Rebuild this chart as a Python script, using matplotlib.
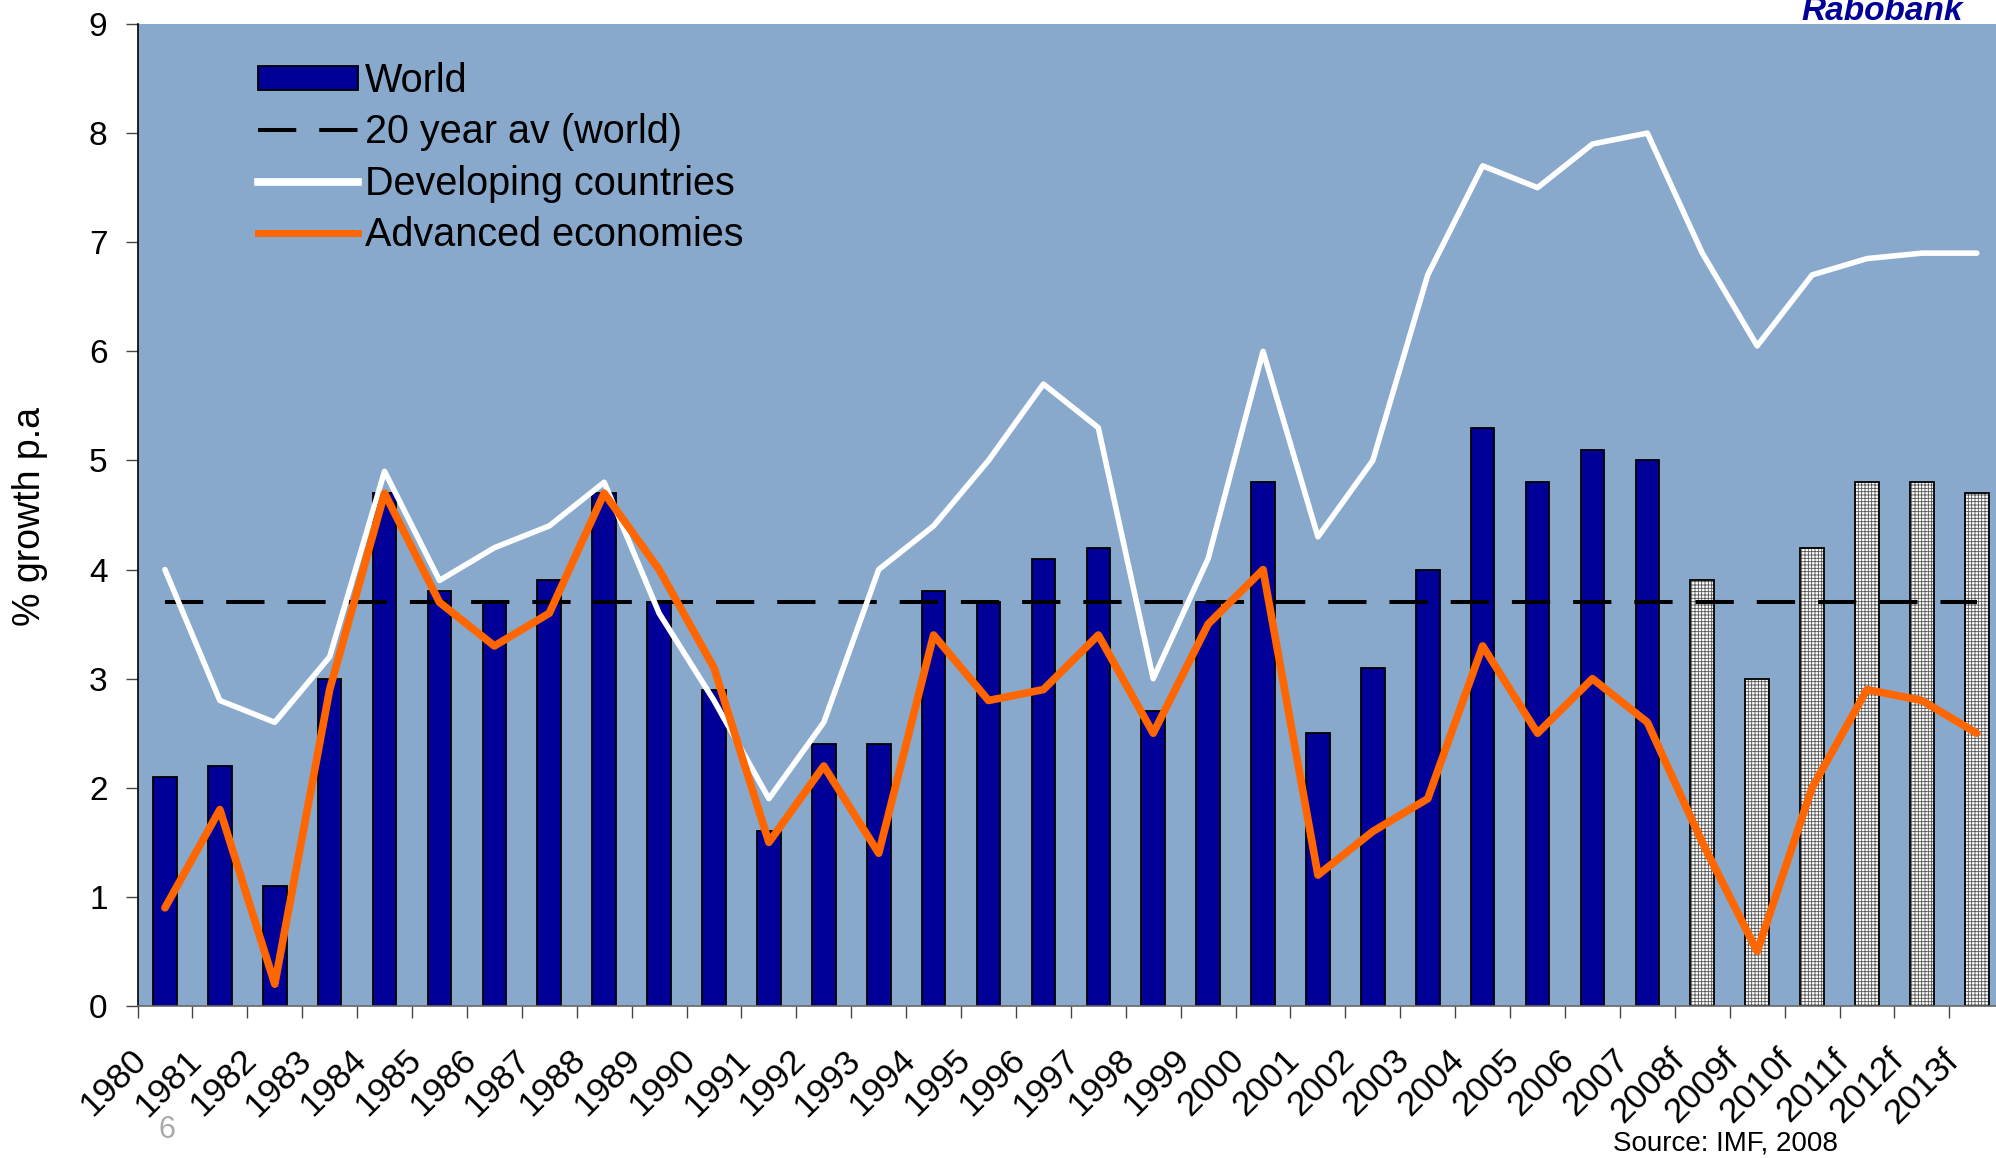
import matplotlib
matplotlib.use("Agg")
import matplotlib.pyplot as plt
from matplotlib.patches import Patch
from matplotlib.lines import Line2D
from matplotlib.transforms import ScaledTranslation
import numpy as np

years = ['1980', '1981', '1982', '1983', '1984', '1985', '1986', '1987', '1988', '1989',
         '1990', '1991', '1992', '1993', '1994', '1995', '1996', '1997', '1998', '1999',
         '2000', '2001', '2002', '2003', '2004', '2005', '2006', '2007',
         '2008f', '2009f', '2010f', '2011f', '2012f', '2013f']
world = [2.1, 2.2, 1.1, 3.0, 4.7, 3.8, 3.7, 3.9, 4.7, 3.7,
         2.9, 1.6, 2.4, 2.4, 3.8, 3.7, 4.1, 4.2, 2.7, 3.7,
         4.8, 2.5, 3.1, 4.0, 5.3, 4.8, 5.1, 5.0,
         3.9, 3.0, 4.2, 4.8, 4.8, 4.7]
developing = [4.0, 2.8, 2.6, 3.2, 4.9, 3.9, 4.2, 4.4, 4.8, 3.6,
              2.8, 1.9, 2.6, 4.0, 4.4, 5.0, 5.7, 5.3, 3.0, 4.1,
              6.0, 4.3, 5.0, 6.7, 7.7, 7.5, 7.9, 8.0,
              6.9, 6.05, 6.7, 6.85, 6.9, 6.9]
advanced = [0.9, 1.8, 0.2, 2.9, 4.7, 3.7, 3.3, 3.6, 4.7, 4.0,
            3.1, 1.5, 2.2, 1.4, 3.4, 2.8, 2.9, 3.4, 2.5, 3.5,
            4.0, 1.2, 1.6, 1.9, 3.3, 2.5, 3.0, 2.6,
            1.5, 0.5, 2.0, 2.9, 2.8, 2.5]
avg20 = 3.7
yticks = list(range(0, 10))

BG = '#88A9CC'
NAVY = '#000099'
ORANGE = '#FF6600'

plt.rcParams['font.family'] = ['Liberation Sans', 'DejaVu Sans']
plt.rcParams['hatch.linewidth'] = 0.6

W, H = 1996, 1158
fig = plt.figure(figsize=(W / 100, H / 100), dpi=100)
ax = fig.add_axes([137.5 / W, 1 - 1006 / H, 1 - 137.5 / W, (1006 - 24) / H])
ax.set_facecolor(BG)

x = np.arange(len(years))
is_fc = np.array([y.endswith('f') for y in years])
w = np.array(world)
bw = 0.43

ax.bar(x[~is_fc], w[~is_fc], width=bw, color=NAVY, edgecolor='black', linewidth=1.3, zorder=2)
ax.bar(x[is_fc], w[is_fc], width=bw, color='white', edgecolor='#555555', hatch='+++++',
       linewidth=0, zorder=2)
ax.bar(x[is_fc], w[is_fc], width=bw, fill=False, edgecolor='black', linewidth=1.3, zorder=2.1)

dash = (0, (9.5, 5.7))
ax.hlines(avg20, x[0], x[-1], colors='black', linewidth=2.9, linestyles=dash, zorder=3)
ax.plot(x, developing, color='white', linewidth=4, zorder=4, solid_capstyle='round')
ax.plot(x, advanced, color=ORANGE, linewidth=5.5, zorder=5, solid_capstyle='round')

ax.set_xlim(-0.5, 33.35)
ax.set_ylim(0, 9)
ax.set_yticks(yticks)
ax.set_yticklabels([str(v) for v in yticks], fontsize=24)
ax.tick_params(axis='y', length=8.6, width=1, pad=13, color='#444444')

ax.set_xticks(x)
ax.set_xticklabels(years, rotation=45, ha='right', va='top', fontsize=25.5)
ax.tick_params(axis='x', which='major', length=0, pad=27)
ax.set_xticks(np.arange(-0.5, len(years) - 0.5, 1.0), minor=True)
ax.tick_params(axis='x', which='minor', length=8.6, width=1, color='#444444')
offset = ScaledTranslation(-0.12, 0, fig.dpi_scale_trans)
for lab in ax.get_xticklabels():
    lab.set_transform(lab.get_transform() + offset)

for s in ['top', 'right']:
    ax.spines[s].set_visible(False)
ax.spines['left'].set_color('black')
ax.spines['left'].set_linewidth(1.2)
ax.spines['bottom'].set_color('#666666')
ax.spines['bottom'].set_linewidth(1.2)

fig.text(30 / W, 1 - 517 / H, '% growth p.a', fontsize=27, rotation=90, ha='center', va='center')

handles = [Patch(facecolor=NAVY, edgecolor='black', linewidth=1.3),
           Line2D([], [], color='black', linewidth=2.9, linestyle=dash),
           Line2D([], [], color='white', linewidth=5.5),
           Line2D([], [], color=ORANGE, linewidth=5)]
labels = ['World', '20 year av (world)', 'Developing countries', 'Advanced economies']
fig.legend(handles, labels, loc='upper left', bbox_to_anchor=(258 / W, 1 - 62 / H),
           frameon=False, fontsize=28.5, handlelength=2.53, handletextpad=0.18,
           labelspacing=0.34, borderpad=0, borderaxespad=0, handleheight=0.58)

fig.text(1963 / W, 1 - 20 / H, 'Rabobank', color=NAVY, fontsize=24, fontweight='bold',
         fontstyle='italic', ha='right', va='baseline')
fig.text(1838 / W, 1 - 1143 / H, 'Source: IMF, 2008', fontsize=20, ha='right', va='center')
fig.text(167 / W, 1 - 1130 / H, '6', fontsize=22, color='#AAAAAA', ha='center', va='center')

fig.savefig('out.png', dpi=100, facecolor='white')
